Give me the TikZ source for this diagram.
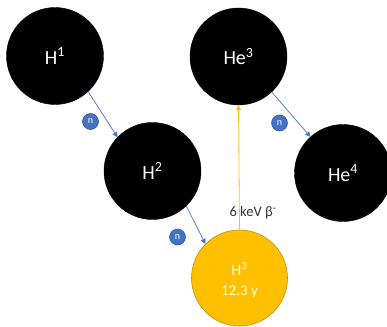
\documentclass[tikz,border=0pt]{standalone}
\usepackage{fontspec}
\setmainfont{Carlito}
\usetikzlibrary{arrows.meta}
\definecolor{nucblue}{HTML}{4472C4}
\definecolor{nucblueedge}{HTML}{2F528F}
\definecolor{tritium}{HTML}{FFC000}
\definecolor{tritiumedge}{HTML}{BF9000}
\tikzset{
  nucleus/.style={circle, fill=black, draw=black, minimum size=97pt, inner sep=0pt,
    text=white, font=\fontsize{20}{20}\selectfont},
  hot/.style={circle, fill=tritium, draw=tritiumedge, line width=0.6pt, minimum size=96pt,
    inner sep=0pt},
  hotlabel/.style={text=white!92!tritium, inner sep=0pt},
  neutron/.style={circle, fill=nucblue, draw=nucblueedge, line width=0.5pt, minimum size=16pt,
    inner sep=0pt, text=white, font=\fontsize{10}{10}\selectfont},
  capture/.style={draw=nucblue, line width=0.7pt, -{Triangle[length=5pt,width=5pt]}},
  decay/.style={draw=tritium, line width=0.8pt, -{Triangle[length=5pt,width=5pt]}}
}
\begin{document}
\begin{tikzpicture}[x=1pt,y=-1pt]
  \useasboundingbox (0,0) rectangle (387,326);
  \node[nucleus] (h1) at (55,56) {H\textsuperscript{1}};
  \node[nucleus] (he3) at (238.5,56.5) {He\textsuperscript{3}};
  \node[nucleus] (h2) at (152.5,171) {H\textsuperscript{2}};
  \node[nucleus] (he4) at (343,173) {He\textsuperscript{4}};
  \node[hot] (h3) at (239.5,278) {};
  \node[hotlabel, font=\fontsize{16}{16}\selectfont] (h3name) at (239.5,268.5) {H\textsuperscript{3}};
  \node[hotlabel, font=\fontsize{15}{15}\selectfont] (h3life) at (239.5,292) {12.3 y};
  \draw[capture] (h1.-47) -- (h2.136);
  \draw[capture] (h2.-46) -- (h3.135);
  \draw[capture] (he3.-47) -- (he4.132);
  \draw[decay] (h3.north) -- (he3.south);
  \node[neutron] (n1) at (90.5,121.5) {n};
  \node[neutron] (n2) at (177.5,237) {n};
  \node[neutron] (n3) at (279.5,123) {n};
  \node[font=\fontsize{14.5}{15}\selectfont, text=black!80] (beta) at (253,213) {6 keV β\textsuperscript{-}};
\end{tikzpicture}
\end{document}
